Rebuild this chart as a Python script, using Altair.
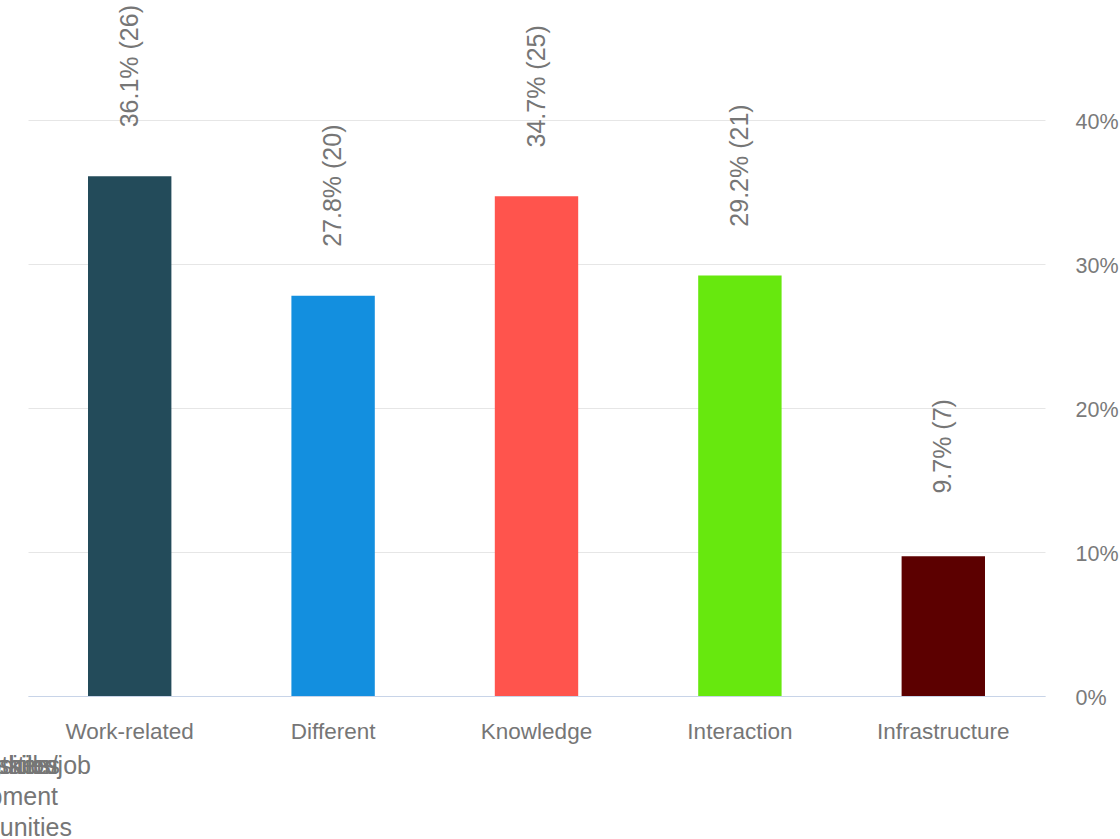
import altair as alt
import pandas as pd

categories = ["Work-related", "Different", "Knowledge", "Interaction", "Infrastructure"]
values = [0.361, 0.278, 0.347, 0.292, 0.097]
counts = [26, 20, 25, 21, 7]
colors = ["#234B5A", "#138FDF", "#FF544D", "#67E80E", "#5C0000"]
stray_texts = ["working sites", "acquisition", "with others", "skills/job", "development", "opportunities"]

df = pd.DataFrame({"cat": categories, "value": values, "count": counts, "color": colors})
df["label"] = [f"{v*100:.1f}% ({c})" for v, c in zip(values, counts)]

W, H = 1017, 576
FONT = "Liberation Sans"
TXT = "#767676"

x = alt.X("cat:N", sort=categories, title=None,
          scale=alt.Scale(paddingInner=0.59, paddingOuter=0.295),
          axis=alt.Axis(labelAngle=0, labelFontSize=22.5, labelColor=TXT, labelFont=FONT,
                        ticks=False, domainColor="#C8D4E8", domainWidth=1.2, labelPadding=24, grid=False))
y = alt.Y("value:Q", title=None,
          scale=alt.Scale(domain=[0, 0.4], nice=False),
          axis=alt.Axis(orient="right", format=".0%", values=[0, 0.1, 0.2, 0.3, 0.4],
                        labelFontSize=21.5, labelColor="#7A7A7A", labelFont=FONT, labelAlign="left",
                        labelPadding=30, labelOffset=2, ticks=False, domain=False, gridColor="#E6E6E6"))

bars = alt.Chart(df).mark_bar().encode(
    x=x, y=y, color=alt.Color("color:N", scale=None)
)

offset = 110 / H * 0.4
labels = alt.Chart(df).transform_calculate(
    ly=f"datum.value + {offset}"
).mark_text(angle=270, align="center", baseline="middle", fontSize=25, color=TXT, font=FONT).encode(
    x=alt.X("cat:N", sort=categories), y=alt.Y("ly:Q"), text="label:N"
)

sdf = pd.DataFrame({"t": stray_texts,
                    "px": [32, 30, 29, 63, 30, 44],
                    "py": [70, 70, 70, 70, 101, 132]})
stray = alt.Chart(sdf).transform_calculate(py2=f"datum.py + {H}").mark_text(
    align="right", baseline="middle", fontSize=25, color=TXT, font=FONT
).encode(
    x=alt.X("px:Q", scale=None), y=alt.Y("py2:Q", scale=None), text="t:N"
)

chart = alt.layer(bars, labels, stray).properties(
    width=W, height=H,
    padding={"left": 28, "top": 120, "right": 75, "bottom": 143},
    autosize=alt.AutoSizeParams(type="none"),
    background="white",
).configure_view(stroke=None)

chart.save("out.html", embed_options={"renderer": "svg", "actions": False})
